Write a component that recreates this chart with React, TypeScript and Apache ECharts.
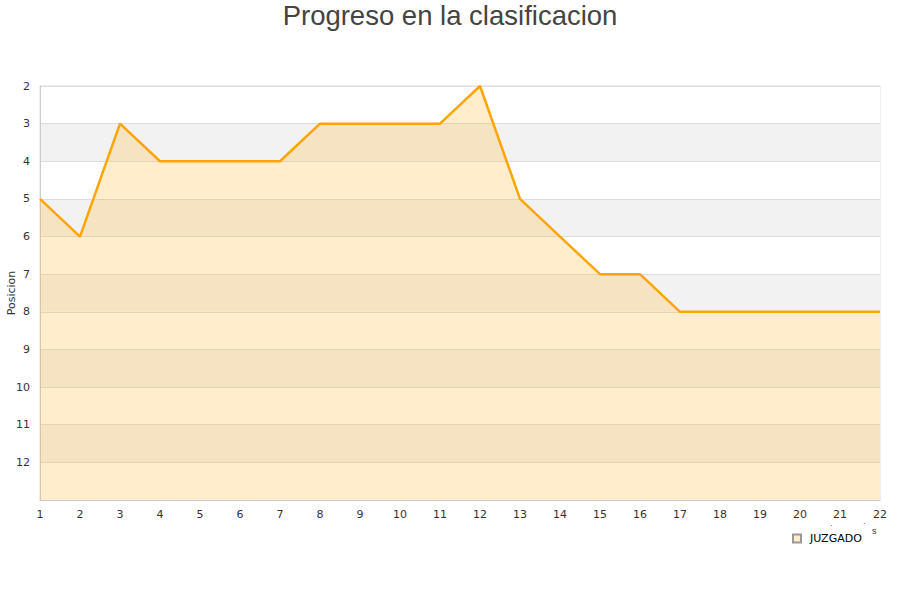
import React, { useEffect, useRef } from "react";
import * as echarts from "echarts";

const jornadas = ["1","2","3","4","5","6","7","8","9","10","11","12","13","14","15","16","17","18","19","20","21","22"];
const posiciones = [5, 6, 3, 4, 4, 4, 4, 3, 3, 3, 3, 2, 5, 6, 7, 7, 8, 8, 8, 8, 8, 8];
const seriesName = "JUZGADO";
const titleText = "Progreso en la clasificacion";
const yAxisName = "Posicion";

export default function App() {
  const ref = useRef<HTMLDivElement>(null);
  useEffect(() => {
    document.body.style.margin = "0";
    const chart = echarts.init(ref.current!, null, { renderer: "svg" });
    chart.setOption({
      animation: false,
      backgroundColor: "#ffffff",
      textStyle: { fontFamily: "DejaVu Sans" },
      title: {
        text: titleText,
        left: "center",
        top: -4,
        textStyle: { fontFamily: "Liberation Sans", fontSize: 27.5, fontWeight: "normal", color: "#444444" },
      },
      legend: {
        data: [{ name: seriesName, icon: "rect" }],
        left: 787,
        top: 528,
        itemWidth: 8,
        itemHeight: 8,
        itemGap: 6,
        textStyle: { fontSize: 11, color: "#000000", fontFamily: "DejaVu Sans", padding: [0, 0, 0, 4] },
      },
      grid: {
        left: 40, right: 20, top: 86, bottom: 100,
        show: true, borderColor: "#dddddd", borderWidth: 1,
        containLabel: false, outerBoundsMode: "none",
      },
      xAxis: {
        type: "category",
        data: jornadas,
        boundaryGap: false,
        axisLine: { show: true, lineStyle: { color: "#cccccc" } },
        axisTick: { show: false },
        axisLabel: { color: "#333333", fontSize: 11, margin: 9, interval: 0 },
        splitLine: { show: false },
      },
      yAxis: {
        type: "value",
        inverse: true,
        min: 2,
        max: 13,
        interval: 1,
        axisLine: { show: true, lineStyle: { color: "#cccccc" } },
        axisTick: { show: false },
        axisLabel: {
          color: "#333333",
          fontSize: 11,
          margin: 10,
          formatter: (v: number) => (v === 13 ? "" : String(v)),
        },
        splitLine: { show: true, lineStyle: { color: "#dddddd" } },
        splitArea: { show: true, areaStyle: { color: ["#ffffff", "#f2f2f2"] } },
      },
      graphic: [
        {
          type: "text", x: 11, y: 293, rotation: Math.PI / 2,
          style: { text: yAxisName, fontSize: 11, fill: "#333333", align: "center", verticalAlign: "middle", fontFamily: "DejaVu Sans" },
        },
        { type: "text", left: 872, top: 526, style: { text: "s", fontSize: 9, fill: "#333333" } },
        { type: "text", left: 830, top: 521, style: { text: "·", fontSize: 8, fill: "#333333" } },
        { type: "text", left: 863, top: 519, style: { text: "·", fontSize: 8, fill: "#333333" } },
      ],
      series: [
        {
          name: seriesName,
          type: "line",
          data: posiciones,
          symbol: "none",
          showSymbol: false,
          lineStyle: { color: "#ffa500", width: 2.5 },
          itemStyle: { color: "#ffecc8", borderColor: "#999999", borderWidth: 1 },
          areaStyle: { color: "rgb(255,177,33)", opacity: 0.23, origin: "end" },
        },
      ],
    });
    return () => chart.dispose();
  }, []);
  return <div ref={ref} style={{ width: 900, height: 600 }} />;
}
